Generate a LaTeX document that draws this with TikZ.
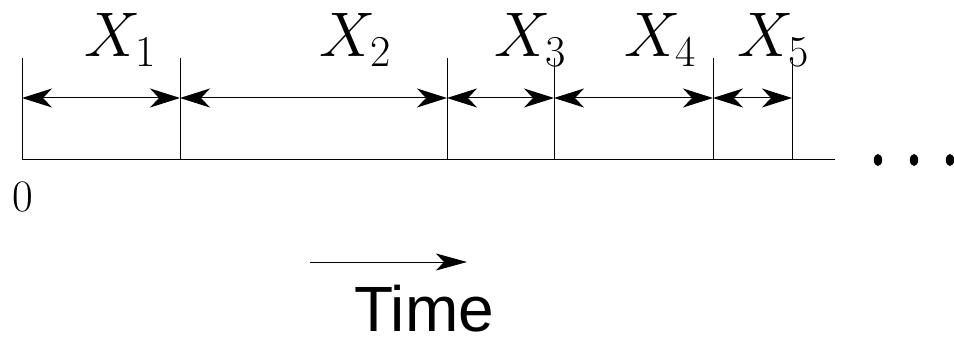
\documentclass[tikz,border=0pt]{standalone}
\usepackage{fix-cm}
\usepackage{fontspec}
\newfontfamily\timefont{Liberation Sans}
\usetikzlibrary{arrows.meta}
\begin{document}
\begin{tikzpicture}[x=1pt,y=-1pt,
  thinline/.style={line width=0.8pt},
  span/.style={line width=1pt,{Stealth[length=30pt,width=19pt,inset=9pt]}-{Stealth[length=30pt,width=19pt,inset=9pt]}},
  lab/.style={anchor=base,inner sep=0pt,font=\fontsize{63}{70}\selectfont},
  dot/.style={fill=black,draw=none}]
\useasboundingbox (0,0) rectangle (954,337);
% tick positions
\foreach \i/\x in {0/22,1/180,2/447,3/554,4/713,5/792}{
  \coordinate (t\i) at (\x,58);
  \coordinate (b\i) at (\x,159);
  \coordinate (a\i) at (\x,98);
  \draw[thinline] (t\i) -- (b\i);
}
\coordinate (bend) at (835,159);
\draw[thinline] (b0) -- (bend);
\foreach \i/\j in {0/1,1/2,2/3,3/4,4/5}{
  \draw[span] (a\i) -- (a\j);
}
\node[lab] (x1) at (120,57) {$X_1$};
\node[lab] (x2) at (355,57) {$X_2$};
\node[lab] (x3) at (530,57) {$X_3$};
\node[lab] (x4) at (660,57) {$X_4$};
\node[lab] (x5) at (773,57) {$X_5$};
\node[anchor=base,inner sep=0pt,font=\fontsize{45}{50}\selectfont] (zero) at (23,211) {0};
\fill[dot] (878,160) ellipse (4.2 and 6);
\fill[dot] (914,160) ellipse (4.2 and 6);
\fill[dot] (950,160) ellipse (4.2 and 6);
\coordinate (ts) at (310,262);
\coordinate (te) at (467,262);
\draw[line width=1pt,-{Stealth[length=31pt,width=17pt,inset=8pt]}] (ts) -- (te);
\node[anchor=base,inner sep=0pt,font=\timefont\fontsize{64}{70}\selectfont] (time) at (424,331) {Time};
\end{tikzpicture}
\end{document}
